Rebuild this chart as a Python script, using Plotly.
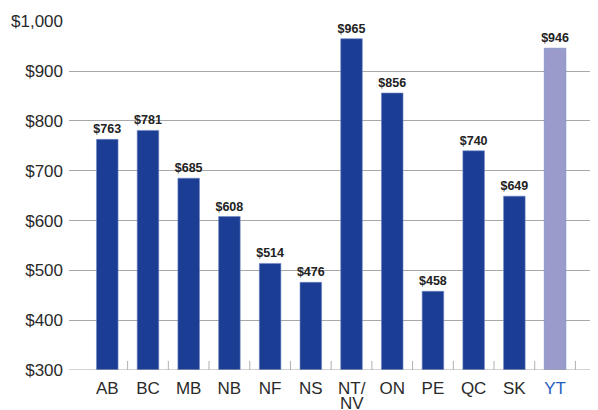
import plotly.graph_objects as go

provinces = ["AB", "BC", "MB", "NB", "NF", "NS", "NT/NV", "ON", "PE", "QC", "SK", "YT"]
values = [763, 781, 685, 608, 514, 476, 965, 856, 458, 740, 649, 946]
labels = ["$763", "$781", "$685", "$608", "$514", "$476", "$965", "$856", "$458", "$740", "$649", "$946"]
y_ticks = [300, 400, 500, 600, 700, 800, 900, 1000]
y_tick_text = ["$300", "$400", "$500", "$600", "$700", "$800", "$900", "$1,000"]

dark = "#1c3d94"
light = "#9a9acb"
colors = [dark] * 11 + [light]
xs = list(range(len(provinces)))
FONT = "Liberation Sans, Arial"

ticktext = []
for p in provinces:
    if p == "NT/NV":
        ticktext.append("")
    elif p == "YT":
        ticktext.append("<span style='color:#1f5fbf'>YT</span>")
    else:
        ticktext.append(p)

fig = go.Figure()
fig.add_trace(go.Bar(
    x=xs, y=[v - 300 for v in values], base=300, width=0.53,
    marker=dict(color=colors, line=dict(color="#6f86c4", width=0.6)),
    text=labels, textposition="outside", cliponaxis=False, constraintext="none",
    textfont=dict(family=FONT, size=12.5, color="#222222", weight="bold"),
))

shapes = [dict(type="line", xref="paper", yref="y", x0=0, x1=1, y0=300, y1=300,
               line=dict(color="#a8a8a8", width=1.2))]
for i in range(len(provinces)):
    shapes.append(dict(type="line", xref="x", yref="paper", x0=i + 0.5, x1=i + 0.5,
                       y0=0, y1=0.026, line=dict(color="#b0b0b0", width=1)))

nt_i = provinces.index("NT/NV")
annotations = [
    dict(x=nt_i, y=-0.0544, xref="x", yref="paper", text="NT/", showarrow=False,
         yanchor="middle", font=dict(family=FONT, size=17, color="#2a2a2a")),
    dict(x=nt_i, y=-0.0974, xref="x", yref="paper", text="NV", showarrow=False,
         yanchor="middle", font=dict(family=FONT, size=17, color="#2a2a2a")),
]

# page body has an 8px margin, so the figure is sized to fill the 598x410 window
fig.update_layout(
    width=590, height=402,
    margin=dict(l=61, r=1, t=13, b=40),
    paper_bgcolor="white", plot_bgcolor="white",
    showlegend=False,
    font=dict(family=FONT, color="#2a2a2a"),
    shapes=shapes, annotations=annotations,
    xaxis=dict(
        range=[-0.94, 12.03], tickvals=xs, ticktext=ticktext, automargin=False,
        tickfont=dict(size=17, color="#2a2a2a"), showgrid=False, zeroline=False,
        showline=False, ticks="", ticklabelstandoff=6,
    ),
    yaxis=dict(
        range=[300, 1000.6], tickvals=y_ticks, ticktext=y_tick_text, automargin=False,
        tickfont=dict(size=17, color="#2a2a2a"), showgrid=True, gridcolor="#a8a8a8",
        gridwidth=1, zeroline=False, showline=False, ticks="", ticklabelstandoff=5,
    ),
)
fig.write_html("out.html")
